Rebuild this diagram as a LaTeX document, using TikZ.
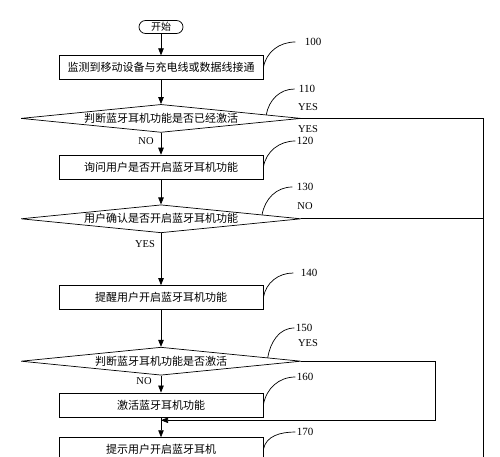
\documentclass[tikz,border=0pt]{standalone}
\usepackage{fontspec}
\setmainfont{Liberation Serif}
\newfontfamily\cjk{Noto Sans CJK SC}
\usetikzlibrary{arrows.meta,positioning,shapes.geometric,calc}

\begin{document}
\begin{tikzpicture}[x=1pt, y=1pt, line width=0.7pt, box/.style={draw, align=center, minimum width=204pt, minimum height=24pt, inner sep=2pt, font=\cjk\fontsize{11}{13}\selectfont}, test/.style={draw, diamond, shape aspect=10, inner sep=0pt, minimum width=280pt, minimum height=28pt, font=\cjk\fontsize{11}{13}\selectfont}, term/.style={draw, rounded corners=6.5pt, minimum width=44pt, minimum height=13pt, inner sep=1pt, font=\cjk\fontsize{10}{12}\selectfont}, num/.style={inner sep=1pt, font=\fontsize{11}{13}\selectfont}, tag/.style={inner sep=1pt, font=\fontsize{10.5}{12}\selectfont}, arr/.style={-{Triangle[length=7pt,width=5.5pt]}}, lead/.style={out=80,in=180}]
\useasboundingbox (0,0) rectangle (500,-457);
\node[term] (start) at (161,-27) {开始};
\node[box,below=21.5pt of start] (b100) {监测到移动设备与充电线或数据线接通};
\node[test,below=24pt of b100] (d110) {判断蓝牙耳机功能是否已经激活};
\node[box,below=22pt of d110] (b120) {询问用户是否开启蓝牙耳机功能};
\node[test,below=25pt of b120] (d130) {用户确认是否开启蓝牙耳机功能};
\node[box,below=52pt of d130] (b140) {提醒用户开启蓝牙耳机功能};
\node[test,below=37pt of b140] (d150) {判断蓝牙耳机功能是否激活};
\node[box,below=17pt of d150] (b160) {激活蓝牙耳机功能};
\node[box,below=20pt of b160] (b170) {提示用户开启蓝牙耳机};
% step numbers
\node[num] (n100) at (313,-42) {100};
\node[num] (n110) at (307,-89) {110};
\node[num] (n120) at (305,-141) {120};
\node[num] (n130) at (305,-187) {130};
\node[num] (n140) at (309,-273) {140};
\node[num] (n150) at (304,-328) {150};
\node[num] (n160) at (305,-377) {160};
\node[num] (n170) at (305,-432) {170};
% branch labels
\node[tag] (y110) at (308,-107) {YES};
\node[tag] (y120) at (308,-129) {YES};
\node[tag] (no110) at (146,-141) {NO};
\node[tag] (no130) at (305,-206) {NO};
\node[tag] (y130) at (145,-244) {YES};
\node[tag] (y150) at (308,-343) {YES};
\node[tag] (no150) at (144,-381) {NO};
\coordinate[below=12pt of b170] (end);
\coordinate[below=3pt of b160] (merge);
\coordinate (rail) at (483,-470);
\coordinate (loopx) at (435,0);
% main flow
\draw[arr] (start)--(b100);
\draw[arr] (b100)--(d110);
\draw[arr] (d110)--(b120);
\draw[arr] (b120)--(d130);
\draw[arr] (d130)--(b140);
\draw[arr] (b140)--(d150);
\draw[arr] (d150)--(b160);
\draw[arr] (b160)--(b170);
\draw (b170)--(end);
\draw (d110.east) -| (rail);
\draw (d130.east) -- (d130.east -| rail);
\draw[arr] (d150.east) -| (merge -| loopx) -- (merge);
% leaders
\draw (b100.east) to[lead] ([xshift=-8pt]n100.west);
\draw ($(d110.north)!0.75!(d110.east)$) to[lead] ([xshift=-3pt]n110.west);
\draw (b120.east) to[lead] (n120.west);
\draw ($(d130.north)!0.72!(d130.east)$) to[lead] ([xshift=-3pt]n130.west);
\draw (b140.east) to[lead] ([xshift=-6pt]n140.west);
\draw ($(d150.north)!0.76!(d150.east)$) to[lead] (n150.west);
\draw (b160.east) to[lead] (n160.west);
\draw (b170.east) to[lead] (n170.west);
\end{tikzpicture}
\end{document}
